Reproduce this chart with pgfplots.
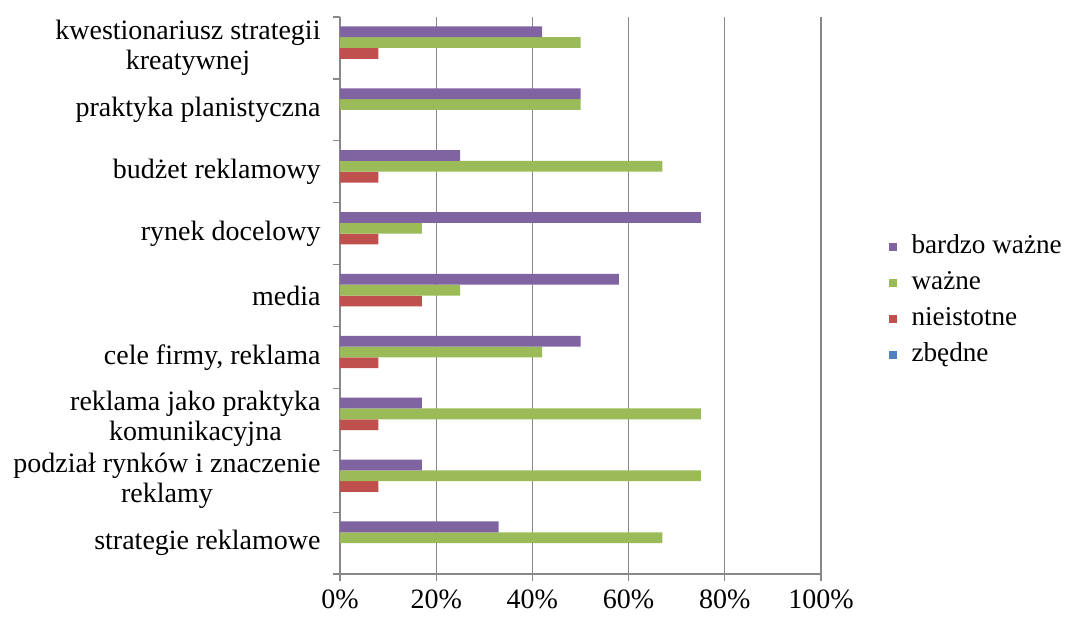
\documentclass[border=0pt]{standalone}
\usepackage{pgfplots}
\pgfplotsset{compat=1.18}
\usepackage{fontspec}
\setmainfont{Liberation Serif}

\definecolor{cPurple}{HTML}{8064A2}
\definecolor{cGreen}{HTML}{9BBB59}
\definecolor{cRed}{HTML}{C0504D}
\definecolor{cBlue}{HTML}{4F81BD}
\definecolor{cAxis}{HTML}{888888}

\begin{document}
\begin{tikzpicture}
\useasboundingbox (-170pt,-21.5pt) rectangle (364.5pt,287pt);
\begin{axis}[
  at={(0,0)}, anchor=south west,
  scale only axis,
  width=240.5pt, height=278.5pt,
  xbar=0pt, bar width=5.4pt,
  xmin=0, xmax=100,
  ymin=-0.5, ymax=8.5,
  y dir=reverse,
  axis x line*=bottom, axis y line*=left,
  axis line style={draw=cAxis, line width=0.6pt, -},
  xtick={0,20,...,100},
  xticklabels={0\%,20\%,40\%,60\%,80\%,100\%},
  xmajorgrids,
  grid style={draw=cAxis, line width=0.6pt},
  tick style={draw=cAxis, line width=0.6pt},
  tick align=outside,
  major tick length=3.5pt,
  ytick={-0.5,0.5,...,8.5},
  yticklabels={},
  extra y ticks={0,1,2,3,4,5,6,7,8},
  extra y tick labels={
    {kwestionariusz strategii\\kreatywnej},
    {praktyka planistyczna},
    {budżet reklamowy},
    {rynek docelowy},
    {media},
    {cele firmy, reklama},
    {reklama jako praktyka\\komunikacyjna},
    {podział rynków i znaczenie\\reklamy},
    {strategie reklamowe}},
  extra y tick style={major tick length=0pt, grid=none,
    yticklabel style={align=center, xshift=-6.2pt}},
  tick label style={font=\fontsize{14}{15}\selectfont},
  xticklabel style={yshift=-3.2pt, inner sep=1pt},
  legend style={draw=none, at={(1.1404,0.49)}, anchor=west, inner sep=0pt,
    font=\fontsize{13.6}{15}\selectfont, row sep=2pt,
    nodes={text height=9pt, text depth=3pt, inner sep=2pt}},
  legend cell align=left,
  reverse legend,
  legend image code/.code={%
    \fill[#1] (0pt,-1.9pt) rectangle (3.8pt,1.9pt);
    \path[draw=none, fill=none] (0pt,-1.9pt) rectangle (9.3pt,1.9pt);},
]
% series listed bottom-up within each group
\addplot[fill=cBlue, draw=none] coordinates {
  (0,0) (0,1) (0,2) (0,3) (0,4) (0,5) (0,6) (0,7) (0,8)};
\addplot[fill=cRed, draw=none] coordinates {
  (8,0) (0,1) (8,2) (8,3) (17,4) (8,5) (8,6) (8,7) (0,8)};
\addplot[fill=cGreen, draw=none] coordinates {
  (50,0) (50,1) (67,2) (17,3) (25,4) (42,5) (75,6) (75,7) (67,8)};
\addplot[fill=cPurple, draw=none] coordinates {
  (42,0) (50,1) (25,2) (75,3) (58,4) (50,5) (17,6) (17,7) (33,8)};
\legend{zbędne, nieistotne, ważne, bardzo ważne}
\end{axis}
\end{tikzpicture}
\end{document}
